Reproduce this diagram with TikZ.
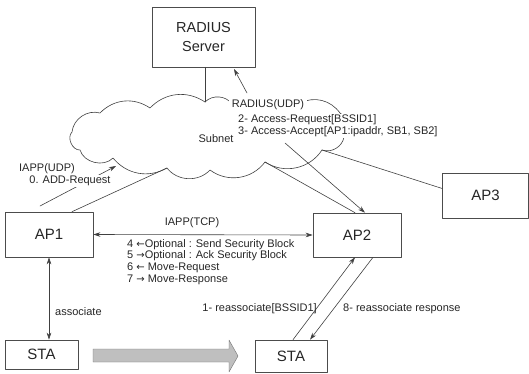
\documentclass[tikz,border=0pt]{standalone}
\usepackage{fontspec}
\setmainfont{Liberation Sans}
\newfontfamily\arrowfont{DejaVu Sans}
\usetikzlibrary{arrows.meta}
\newcommand{\la}{{\arrowfont\fontsize{10}{11}\selectfont ←}}
\newcommand{\ra}{{\arrowfont\fontsize{10}{11}\selectfont →}}
\begin{document}
\begin{tikzpicture}[x=1pt,y=-1pt,>={Stealth[length=7pt,width=4.5pt]}, line join=round, line cap=round,
	box/.style={draw=black!70, line width=.6pt, text=black!85, inner sep=0pt, font=\fontsize{15}{16}\selectfont},
	wire/.style={draw=black!75, line width=.6pt},
	lbl/.style={text=black!85, inner sep=1pt, font=\fontsize{11}{11.8}\selectfont}]
	\useasboundingbox (0,0) rectangle (529,374);
	% boxes
	\node[box, minimum width=103, minimum height=60, align=center, font=\fontsize{14.5}{19}\selectfont] (radius) at (203.5,37) {RADIUS\\Server};
	\node[box, minimum width=88, minimum height=45] (ap1) at (49,234.5) {AP1};
	\node[box, minimum width=88, minimum height=44] (ap2) at (357,235) {AP2};
	\node[box, minimum width=86, minimum height=45] (ap3) at (485.5,195.5) {AP3};
	\node[box, minimum width=73, minimum height=29] (sta1) at (41.5,354.5) {STA};
	\node[box, minimum width=72, minimum height=32] (sta2) at (291,356) {STA};
	% cloud
	\coordinate (cl-top) at (205,102);
	\coordinate (cl-ap1) at (167,168);
	\coordinate (cl-ap2) at (265,162);
	\coordinate (cl-ap3) at (322,150);
	\coordinate (cl-in) at (285,143);
	\draw[wire] (100,113) to[bend left=40] (150,108) to[bend left=40] (cl-top) to[bend left=50] (232,104)
		to[bend left=15] (300,103) to[bend left=40] (340,113) to[bend left=50] (344,137) to[bend left=50] (cl-ap3)
		to[bend left=45] (cl-ap2) to[bend left=45] (210,170) to[bend left=50] (cl-ap1) to[bend left=40] (113,158)
		to[bend left=60] (80,150) to[bend left=70] (72,132) to[bend left=50] (100,113);
	% connectors
	\coordinate (ru-tail) at (247,93);
	\coordinate (ru-tip) at (234,69);
	\coordinate (udp-tail) at (40,206);
	\coordinate (udp-tip) at (116,166);
	\draw[wire] (radius.south -| cl-top) -- (cl-top);
	\draw[wire,->] (ru-tail) -- (ru-tip);
	\draw[wire,->] (udp-tail) -- (udp-tip);
	\draw[wire] (cl-ap1) -- ([xshift=23pt]ap1.north);
	\draw[wire] (cl-ap2) -- ([xshift=-2pt]ap2.north);
	\draw[wire,->] (cl-in) -- ([xshift=8pt]ap2.north);
	\draw[wire] (cl-ap3) -- ([yshift=7pt]ap3.west);
	\draw[wire,<->] (ap1.east) -- (ap2.west);
	\draw[wire,<->] (ap1.south) -- (ap1.south |- sta1.north);
	\draw[wire,->] ([xshift=2pt]sta2.north) -- ([xshift=-2pt]ap2.south);
	\draw[wire,->] ([xshift=16pt]ap2.south) -- ([xshift=19pt]sta2.north);
	% move arrow
	\draw[draw=black!55, fill=black!25] (93,349) -- (229,349) -- (229,340) -- (238,356) -- (229,372) -- (229,362) -- (93,362) -- cycle;
	% labels
	\node[lbl, fill=white, inner sep=2.5pt] (radius-lbl) at (268,105) {RADIUS(UDP)};
	\node[lbl, fill=white, align=left, anchor=west] (acc-lbl) at (237,126) {2- Access-Request[BSSID1]\\3- Access-Accept[AP1:ipaddr, SB1, SB2]};
	\node[lbl] (subnet-lbl) at (216,139) {Subnet};
	\node[lbl] (udp-lbl) at (47,169) {IAPP(UDP)};
	\node[lbl, fill=white, inner sep=1.5pt] (add-lbl) at (70,181) {0. ADD-Request};
	\node[lbl] (tcp-lbl) at (192,223) {IAPP(TCP)};
	\node[lbl, align=left, anchor=north west] (move-lbl) at (126,238) {4 \la Optional : Send Security Block\\5 \ra Optional : Ack Security Block\\6 \la\ Move-Request\\7 \ra\ Move-Response};
	\node[lbl, anchor=west] (assoc-lbl) at (54,312) {associate};
	\node[lbl, anchor=east] (reassoc-lbl) at (318,309) {1- reassociate[BSSID1]};
	\node[lbl, anchor=west] (resp-lbl) at (342,309) {8- reassociate response};
\end{tikzpicture}
\end{document}
